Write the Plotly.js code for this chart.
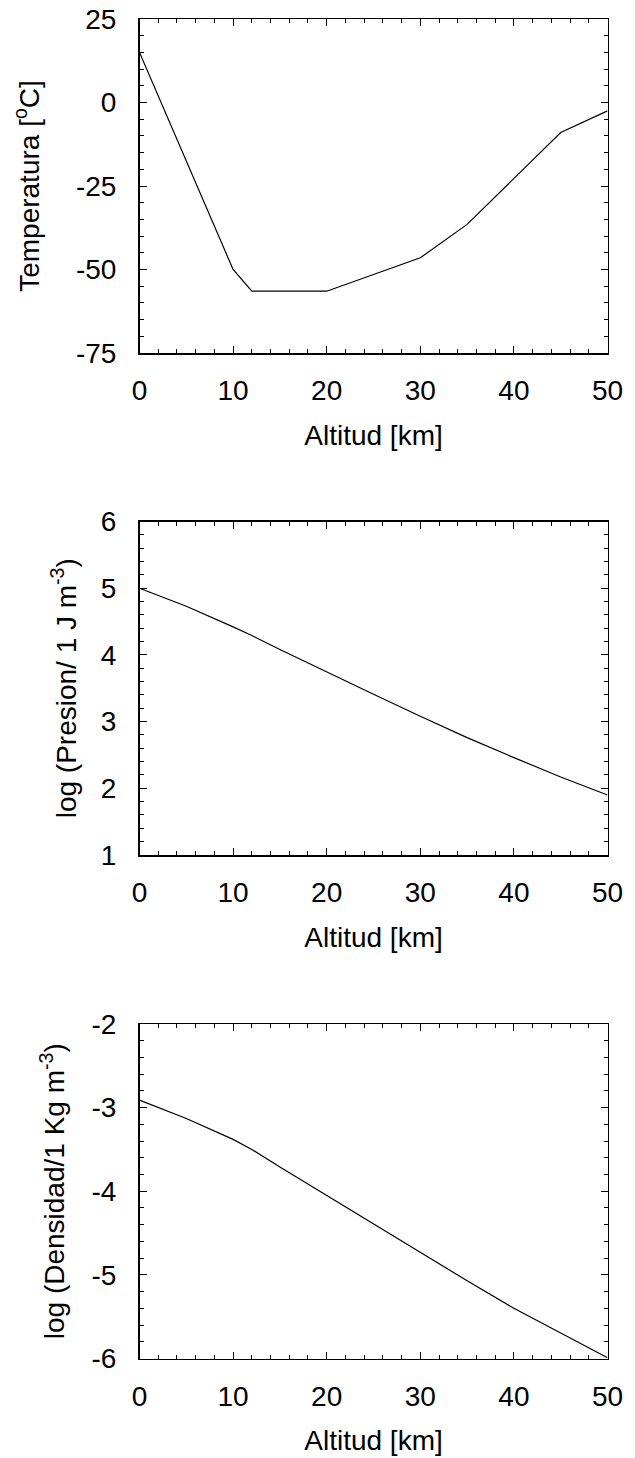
<!DOCTYPE html>
<html>
<head>
<meta charset="utf-8">
<script src="https://cdn.plot.ly/plotly-3.0.1.min.js"></script>
<style>html,body{margin:0;padding:0;background:#fff;}#chart{width:635px;height:1458px;}</style>
</head>
<body>
<div id="chart"></div>
<script>
// Temperature profile (kink points)
const altT = [0, 10, 12, 20, 30, 35, 45, 50];
const temperatura = [15, -50, -56.5, -56.5, -46.5, -36.5, -9, -2.5];

// log pressure and log density
const altPD = [0, 5, 10, 12, 15, 20, 25, 30, 35, 40, 45, 50];
const logPresion = [5.00, 4.73, 4.42, 4.29, 4.08, 3.74, 3.41, 3.08, 2.76, 2.46, 2.17, 1.90];
const logDensidad = [-2.91, -3.13, -3.38, -3.50, -3.71, -4.05, -4.40, -4.74, -5.07, -5.40, -5.70, -5.99];

const xTickVals = [0, 10, 20, 30, 40, 50];
const xTickText = ['0', '10', '20', '30', '40', '50'];
const tempTicks = [25, 0, -25, -50, -75];
const tempTickText = ['25', '0', '-25', '-50', '-75'];
const presTicks = [6, 5, 4, 3, 2, 1];
const presTickText = ['6', '5', '4', '3', '2', '1'];
const densTicks = [-2, -3, -4, -5, -6];
const densTickText = ['-2', '-3', '-4', '-5', '-6'];

const W = 635, H = 1458;
const FONT = 'Liberation Sans, Arial, sans-serif';
const FS = 28;
const xl = 139.5 / W, xr = 607.5 / W;
function yd(top, bottom) { return [1 - bottom / H, 1 - top / H]; }

const lineStyle = {color: '#000', width: 1.2};
const traces = [
  {x: altT, y: temperatura, type: 'scatter', mode: 'lines', line: lineStyle, xaxis: 'x', yaxis: 'y'},
  {x: altPD, y: logPresion, type: 'scatter', mode: 'lines', line: lineStyle, xaxis: 'x2', yaxis: 'y2'},
  {x: altPD, y: logDensidad, type: 'scatter', mode: 'lines', line: lineStyle, xaxis: 'x3', yaxis: 'y3'}
];

function xaxis(anchor) {
  return {
    domain: [xl, xr], anchor: anchor, range: [0, 50],
    tickvals: xTickVals, ticktext: xTickText, ticks: 'inside', ticklen: 7, tickwidth: 1, tickcolor: '#000',
    minor: {dtick: 2, ticks: 'inside', ticklen: 4, tickwidth: 1, tickcolor: '#000', showgrid: false},
    showline: true, linecolor: '#000', linewidth: 1.5, mirror: 'ticks',
    showgrid: false, zeroline: false, ticklabelstandoff: 12,
    tickfont: {family: FONT, size: FS, color: '#000'},
    title: {text: 'Altitud [km]', font: {family: FONT, size: FS, color: '#000'}, standoff: 20}
  };
}
function yaxis(anchor, dom, range, tv, tt, minorD, title, standoff) {
  return {
    domain: dom, anchor: anchor, range: range,
    tickvals: tv, ticktext: tt, ticks: 'inside', ticklen: 7, tickwidth: 1, tickcolor: '#000',
    minor: {dtick: minorD, ticks: 'inside', ticklen: 4, tickwidth: 1, tickcolor: '#000', showgrid: false},
    showline: true, linecolor: '#000', linewidth: 1.5, mirror: 'ticks',
    showgrid: false, zeroline: false, ticklabelstandoff: 16,
    tickfont: {family: FONT, size: FS, color: '#000'},
    title: {text: title, font: {family: FONT, size: FS, color: '#000'}, standoff: standoff}
  };
}

const layout = {
  width: W, height: H, showlegend: false,
  paper_bgcolor: '#fff', plot_bgcolor: '#fff',
  margin: {l: 0, r: 0, t: 0, b: 0},
  xaxis: xaxis('y'), xaxis2: xaxis('y2'), xaxis3: xaxis('y3'),
  yaxis: yaxis('x', yd(19, 353), [-75, 25], tempTicks, tempTickText, 5, 'Temperatura [<sup>o</sup>C]', 28),
  yaxis2: yaxis('x2', yd(521.5, 855), [1, 6], presTicks, presTickText, 0.2, 'log (Presion/ 1 J m<sup>-3</sup>)', 16),
  yaxis3: yaxis('x3', yd(1024, 1358.5), [-6, -2], densTicks, densTickText, 0.2, 'log (Densidad/1 Kg m<sup>-3</sup>)', 18)
};

Plotly.newPlot('chart', traces, layout, {displayModeBar: false, staticPlot: true});
</script>
</body>
</html>
